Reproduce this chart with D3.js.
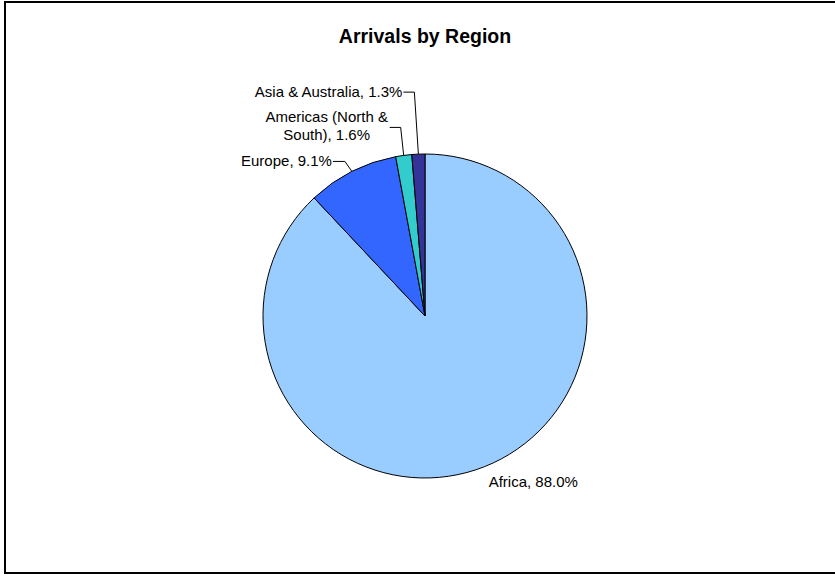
<!DOCTYPE html>
<html>
<head>
<meta charset="utf-8">
<script src="https://cdn.jsdelivr.net/npm/d3@7"></script>
<style>
  body { margin: 0; background: #fff; }
  text { font-family: "Liberation Sans", Arial, sans-serif; }
</style>
</head>
<body>
<svg id="chart" width="835" height="577"></svg>
<script>
// data
const regions = ["Africa", "Europe", "Americas (North & South)", "Asia & Australia"];
const shares = [88.0, 9.1, 1.6, 1.3];
const colors = ["#99CCFF", "#3366FF", "#33CCCC", "#333399"];
// label lines (split for wrapping)
const labelLines = [["Africa, 88.0%"], ["Europe, 9.1%"], ["Americas (North &", "South), 1.6%"], ["Asia & Australia, 1.3%"]];

const width = 835, height = 577;
const cx = 425, cy = 316, radius = 162;

const svg = d3.select("#chart");

// outer frame
svg.append("rect")
  .attr("x", 5).attr("y", 2)
  .attr("width", 840).attr("height", 571)
  .attr("fill", "#fff").attr("stroke", "#000").attr("stroke-width", 2);

svg.append("text")
  .attr("x", cx).attr("y", 43)
  .attr("text-anchor", "middle")
  .style("font-size", "19.5px").style("font-weight", "bold")
  .text("Arrivals by Region");

const pie = d3.pie().sort(null).value(d => d)(shares);
const arc = d3.arc().innerRadius(0).outerRadius(radius);

const g = svg.append("g").attr("transform", `translate(${cx},${cy})`);

g.selectAll(".slice").data(pie).join("path")
  .attr("class", "slice")
  .attr("d", arc)
  .attr("fill", (d, i) => colors[i])
  .attr("stroke", "#000").attr("stroke-width", 1);

// label placement relative to the slice edge point (layout only)
const layout = [
  { dx: 4, dy: 20, leader: false },
  { ex: -7, ey: -10, gap: 12 },
  { ex: -3, ey: -28, gap: 11 },
  { ex: -4, ey: -62, gap: 11 }
];

pie.forEach((d, i) => {
  const a = (d.startAngle + d.endAngle) / 2;
  const px = Math.sin(a) * radius, py = -Math.cos(a) * radius;
  const lines = labelLines[i];
  const L = layout[i];
  if (L.leader === false) {
    g.append("text")
      .attr("x", px + L.dx).attr("y", py + L.dy)
      .style("font-size", "15px")
      .text(lines[0]);
    return;
  }
  const exX = px + L.ex, exY = py + L.ey;
  g.append("polyline")
    .attr("points", [[px, py], [exX, exY], [exX - L.gap, exY]].map(p => p.join(",")).join(" "))
    .attr("fill", "none").attr("stroke", "#000").attr("stroke-width", 1);
  const t = g.append("text")
    .attr("text-anchor", lines.length > 1 ? "middle" : "end")
    .style("font-size", "15px");
  if (lines.length > 1) {
    // two-line label centred to the left of the elbow
    const tx = exX - L.gap - 63;
    lines.forEach((ln, k) => {
      t.append("tspan").attr("x", tx).attr("y", exY - 5.5 + (k * 18)).text(ln);
    });
  } else {
    t.attr("x", exX - L.gap - 1).attr("y", exY + 5).text(lines[0]);
  }
});
</script>
</body>
</html>
